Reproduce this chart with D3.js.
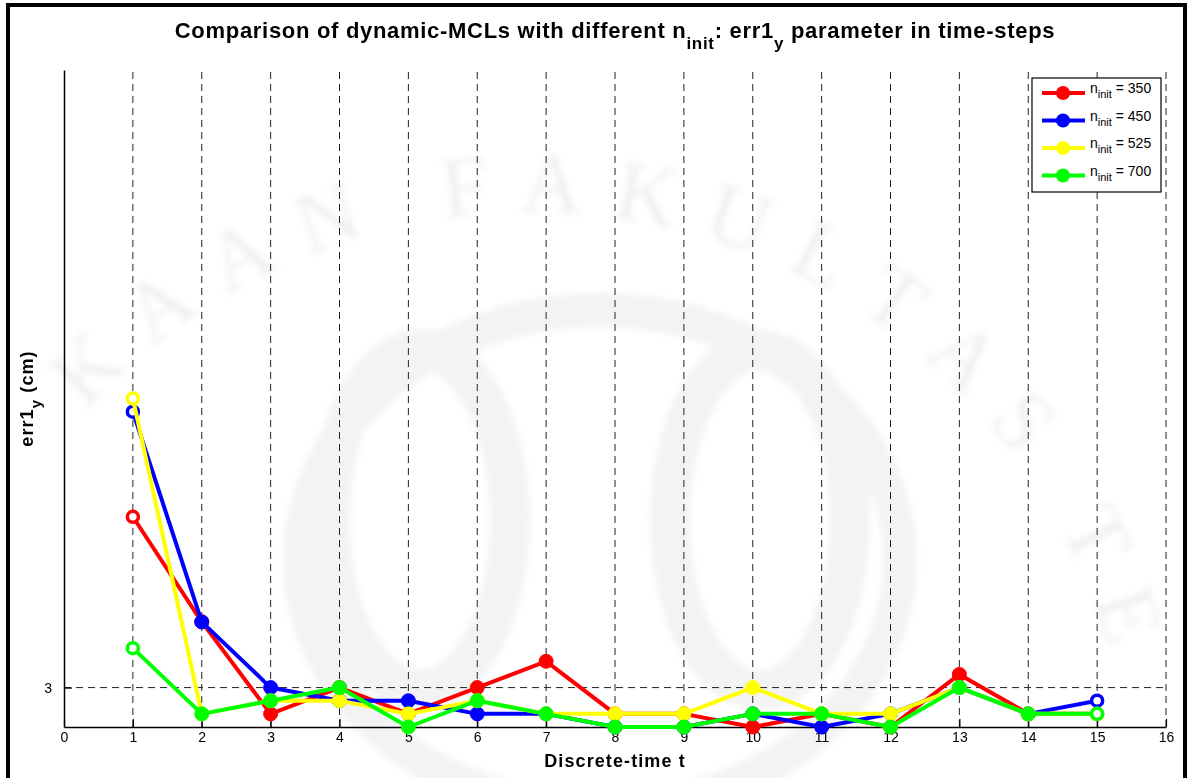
<!DOCTYPE html>
<html>
<head>
<meta charset="utf-8">
<script src="https://cdn.jsdelivr.net/npm/d3@7"></script>
<style>
  html, body { margin: 0; padding: 0; background: #fff; }
  svg { display: block; font-family: "Liberation Sans", Arial, sans-serif; }
</style>
</head>
<body>
<svg id="chart" width="1191" height="778"></svg>
<script>
// Time steps and err1_y values (cm) for each initial particle count
const timeSteps = d3.range(1, 16);
const err350 = [16, 8, 1, 3, 1, 3, 5, 1, 1, 0, 1, 0, 4, 1, 1];
const err450 = [24, 8, 3, 2, 2, 1, 1, 0, 0, 1, 0, 1, 3, 1, 2];
const err525 = [25, 1, 2, 2, 1, 2, 1, 1, 1, 3, 1, 1, 3, 1, 1];
const err700 = [6, 1, 2, 3, 0, 2, 1, 0, 0, 1, 1, 0, 3, 1, 1];
const seriesNames = ["350", "450", "525", "700"];
const seriesColors = ["#ff0000", "#0000ff", "#ffff00", "#00ff00"];
const xTicks = d3.range(0, 17);
const yTicks = [3];

const series = [err350, err450, err525, err700].map((vals, i) => ({
  name: seriesNames[i],
  color: seriesColors[i],
  points: vals.map((v, j) => ({ t: timeSteps[j], v }))
}));

const svg = d3.select("#chart");
const W = 1191, H = 778;
const plot = { left: 64, right: 1166, top: 70, bottom: 727 };

const x = d3.scaleLinear().domain([0, 16]).range([plot.left, plot.right]);
const y = d3.scaleLinear().domain([0, 50]).range([plot.bottom, plot.top]);

svg.append("rect").attr("width", W).attr("height", H).attr("fill", "#fff");

// faint background emblem and lettering
const defs = svg.append("defs");
defs.append("filter").attr("id", "soft").append("feGaussianBlur").attr("stdDeviation", 3);
const wm = svg.append("g").attr("fill", "none").attr("stroke", "#f3f3f3").attr("filter", "url(#soft)");
wm.append("ellipse").attr("cx", 600).attr("cy", 560).attr("rx", 300).attr("ry", 250).attr("stroke-width", 34);
wm.append("ellipse").attr("cx", 420).attr("cy", 520).attr("rx", 90).attr("ry", 170).attr("stroke-width", 40);
wm.append("ellipse").attr("cx", 760).attr("cy", 520).attr("rx", 90).attr("ry", 170).attr("stroke-width", 40);

// lettering laid out one glyph at a time along an arc
const arcPath = d3.path();
arcPath.arc(532, 812, 600, -Math.PI * 0.80, -0.05);
const guide = svg.append("path").attr("d", arcPath.toString()).attr("fill", "none").attr("stroke", "none").node();
const wmText = "KAAN FAKULTAS TE";
const wmG = svg.append("g")
  .attr("font-family", "Liberation Serif, serif")
  .attr("font-size", 86)
  .attr("fill", "#f0f0f0")
  .attr("filter", "url(#soft)");
let pos = 62;
const spacing = 29;
Array.from(wmText).forEach(ch => {
  const probe = wmG.append("text").text(ch === " " ? "\u00a0" : ch);
  const w = probe.node().getComputedTextLength();
  if (ch === " ") { probe.remove(); pos += w + spacing; return; }
  const mid = pos + w / 2;
  const p = guide.getPointAtLength(mid);
  const p0 = guide.getPointAtLength(Math.max(0, mid - 1));
  const p1 = guide.getPointAtLength(mid + 1);
  const ang = Math.atan2(p1.y - p0.y, p1.x - p0.x) * 180 / Math.PI;
  probe.attr("text-anchor", "middle")
    .attr("transform", `translate(${p.x},${p.y}) rotate(${ang})`);
  pos += w + spacing;
});

// figure frame
svg.append("rect")
  .attr("x", 8).attr("y", 5).attr("width", 1177).attr("height", 800)
  .attr("fill", "none").attr("stroke", "#000").attr("stroke-width", 4);

// grid lines
const grid = svg.append("g").attr("stroke", "#222").attr("stroke-width", 1).attr("stroke-dasharray", "7,5");
grid.selectAll("line.v").data(xTicks.filter(d => d > 0)).join("line")
  .attr("x1", d => x(d)).attr("x2", d => x(d))
  .attr("y1", plot.bottom).attr("y2", plot.top);
grid.selectAll("line.h").data(yTicks).join("line")
  .attr("x1", plot.left).attr("x2", plot.right)
  .attr("y1", d => y(d)).attr("y2", d => y(d));

// axes
const xAxis = d3.axisBottom(x).tickValues(xTicks).tickSizeInner(-8).tickSizeOuter(0).tickPadding(5);
const gx = svg.append("g").attr("transform", `translate(0,${plot.bottom})`).call(xAxis);
const yAxis = d3.axisLeft(y).tickValues(yTicks).tickSizeInner(-8).tickSizeOuter(0).tickPadding(12);
const gy = svg.append("g").attr("transform", `translate(${plot.left},0)`).call(yAxis);
[gx, gy].forEach(g => {
  g.select(".domain").attr("stroke", "#000").attr("stroke-width", 1.5);
  g.selectAll(".tick line").attr("stroke", "#000").attr("stroke-width", 1.2);
  g.selectAll(".tick text").attr("font-size", 14).attr("fill", "#000")
    .attr("font-family", "Liberation Sans, Arial, sans-serif");
});

// series
const line = d3.line().x(d => x(d.t)).y(d => y(d.v));
series.forEach(s => {
  const g = svg.append("g");
  g.append("path").datum(s.points)
    .attr("d", line).attr("fill", "none")
    .attr("stroke", s.color).attr("stroke-width", 4)
    .attr("stroke-linejoin", "round");
  const n = s.points.length;
  g.selectAll("circle").data(s.points).join("circle")
    .attr("cx", d => x(d.t)).attr("cy", d => y(d.v))
    .attr("r", (d, i) => (i === 0 || i === n - 1) ? 5.5 : 7)
    .attr("fill", (d, i) => (i === 0 || i === n - 1) ? "#fff" : s.color)
    .attr("stroke", s.color)
    .attr("stroke-width", (d, i) => (i === 0 || i === n - 1) ? 3.5 : 1);
});

// title
const title = svg.append("text")
  .attr("x", (plot.left + plot.right) / 2).attr("y", 38)
  .attr("text-anchor", "middle").attr("font-size", 22).attr("font-weight", "bold")
  .attr("letter-spacing", 0.7);
title.append("tspan").text("Comparison of dynamic-MCLs with different n");
title.append("tspan").attr("font-size", 17).attr("dy", 11).text("init");
title.append("tspan").attr("dy", -11).text(": err1");
title.append("tspan").attr("font-size", 17).attr("dy", 11).text("y");
title.append("tspan").attr("dy", -11).text(" parameter in time-steps");

// axis labels
svg.append("text")
  .attr("x", (plot.left + plot.right) / 2).attr("y", 767)
  .attr("text-anchor", "middle").attr("font-size", 18).attr("font-weight", "bold")
  .attr("letter-spacing", 1.1)
  .text("Discrete-time t");

const yl = svg.append("text")
  .attr("transform", `translate(33,${(plot.top + plot.bottom) / 2}) rotate(-90)`)
  .attr("text-anchor", "middle").attr("font-size", 18).attr("font-weight", "bold")
  .attr("letter-spacing", 1.1);
yl.append("tspan").text("err1");
yl.append("tspan").attr("font-size", 15).attr("dy", 8).text("y");
yl.append("tspan").attr("dy", -8).text(" (cm)");

// legend
const lg = svg.append("g").attr("transform", "translate(1032,78)");
lg.append("rect").attr("width", 129).attr("height", 114)
  .attr("fill", "#fff").attr("stroke", "#000").attr("stroke-width", 1.2);
series.forEach((s, i) => {
  const yy = 15 + i * 27.5;
  lg.append("line").attr("x1", 10).attr("x2", 53).attr("y1", yy).attr("y2", yy)
    .attr("stroke", s.color).attr("stroke-width", 4);
  lg.append("circle").attr("cx", 31).attr("cy", yy).attr("r", 7).attr("fill", s.color);
  const t = lg.append("text").attr("x", 58).attr("y", yy).attr("font-size", 14);
  t.append("tspan").text("n");
  t.append("tspan").attr("font-size", 11).attr("dy", 5).text("init");
  t.append("tspan").attr("dy", -5).text(" = " + s.name);
});
</script>
</body>
</html>
